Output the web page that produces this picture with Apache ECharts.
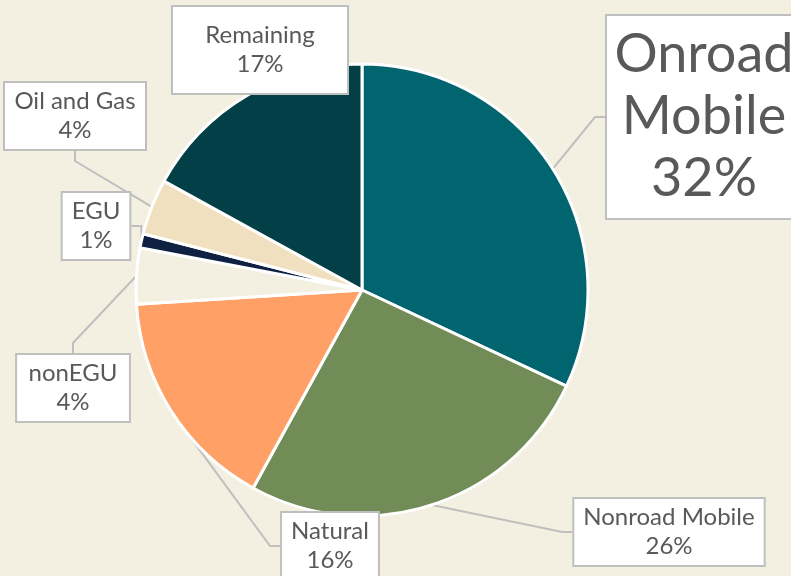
<!DOCTYPE html>
<html>
<head>
<meta charset="utf-8">
<script src="https://cdn.jsdelivr.net/npm/echarts@6/dist/echarts.min.js"></script>
<style>
  html, body { margin: 0; padding: 0; background: #f3efe1; }
  #main { width: 791px; height: 576px; }
</style>
</head>
<body>
<div id="main"></div>
<script>
// emission sources, clockwise from 12 o'clock
const sources = ['Onroad Mobile', 'Nonroad Mobile', 'Natural', 'nonEGU', 'EGU', 'Oil and Gas', 'Remaining'];
const labelNames = ['Onroad\nMobile', 'Nonroad Mobile', 'Natural', 'nonEGU', 'EGU', 'Oil and Gas', 'Remaining'];
const shares = [32, 26, 16, 4, 1, 4, 17];

const colors = ['#00656f', '#718c56', '#ffa066', '#f3efe1', '#0e2142', '#f1e0c0', '#033f47'];

// centre of each callout box
const labelPos = [[704, 117], [669, 532], [330, 546], [73, 388], [96, 226], [75, 116], [260, 50]];

const pieData = sources.map((name, i) => {
  const item = { name: name, value: shares[i], itemStyle: { color: colors[i] } };
  if (i === 0) {
    item.label = { fontSize: 54, lineHeight: 62, width: 172, padding: [8, 11] };
  }
  if (i === 5) {
    item.label = { width: 122 };
  }
  if (i === 6) {
    item.label = { width: 110, padding: [14, 32] };
  }
  return item;
});

const option = {
  backgroundColor: '#f3efe1',
  animation: false,
  series: [
    {
      type: 'pie',
      center: [362, 290],
      radius: 226,
      startAngle: 90,
      clockwise: true,
      data: pieData,
      itemStyle: {
        borderColor: '#ffffff',
        borderWidth: 3
      },
      label: {
        show: true,
        position: 'outside',
        formatter: p => labelNames[p.dataIndex] + '\n' + shares[p.dataIndex] + '%',
        fontFamily: 'Lato',
        fontSize: 24,
        lineHeight: 29,
        color: '#595959',
        align: 'center',
        overflow: 'none',
        backgroundColor: '#ffffff',
        borderColor: '#bfbfbf',
        borderWidth: 2,
        padding: [4, 9]
      },
      labelLine: {
        show: true,
        length: 10,
        length2: 10,
        smooth: false,
        lineStyle: { color: '#bfbfbf', width: 2 }
      },
      labelLayout: params => {
        const p = labelPos[params.dataIndex];
        return { x: p[0], y: p[1], align: 'center', verticalAlign: 'middle' };
      }
    }
  ]
};

const chart = echarts.init(document.getElementById('main'));
chart.setOption(option);
</script>
</body>
</html>
